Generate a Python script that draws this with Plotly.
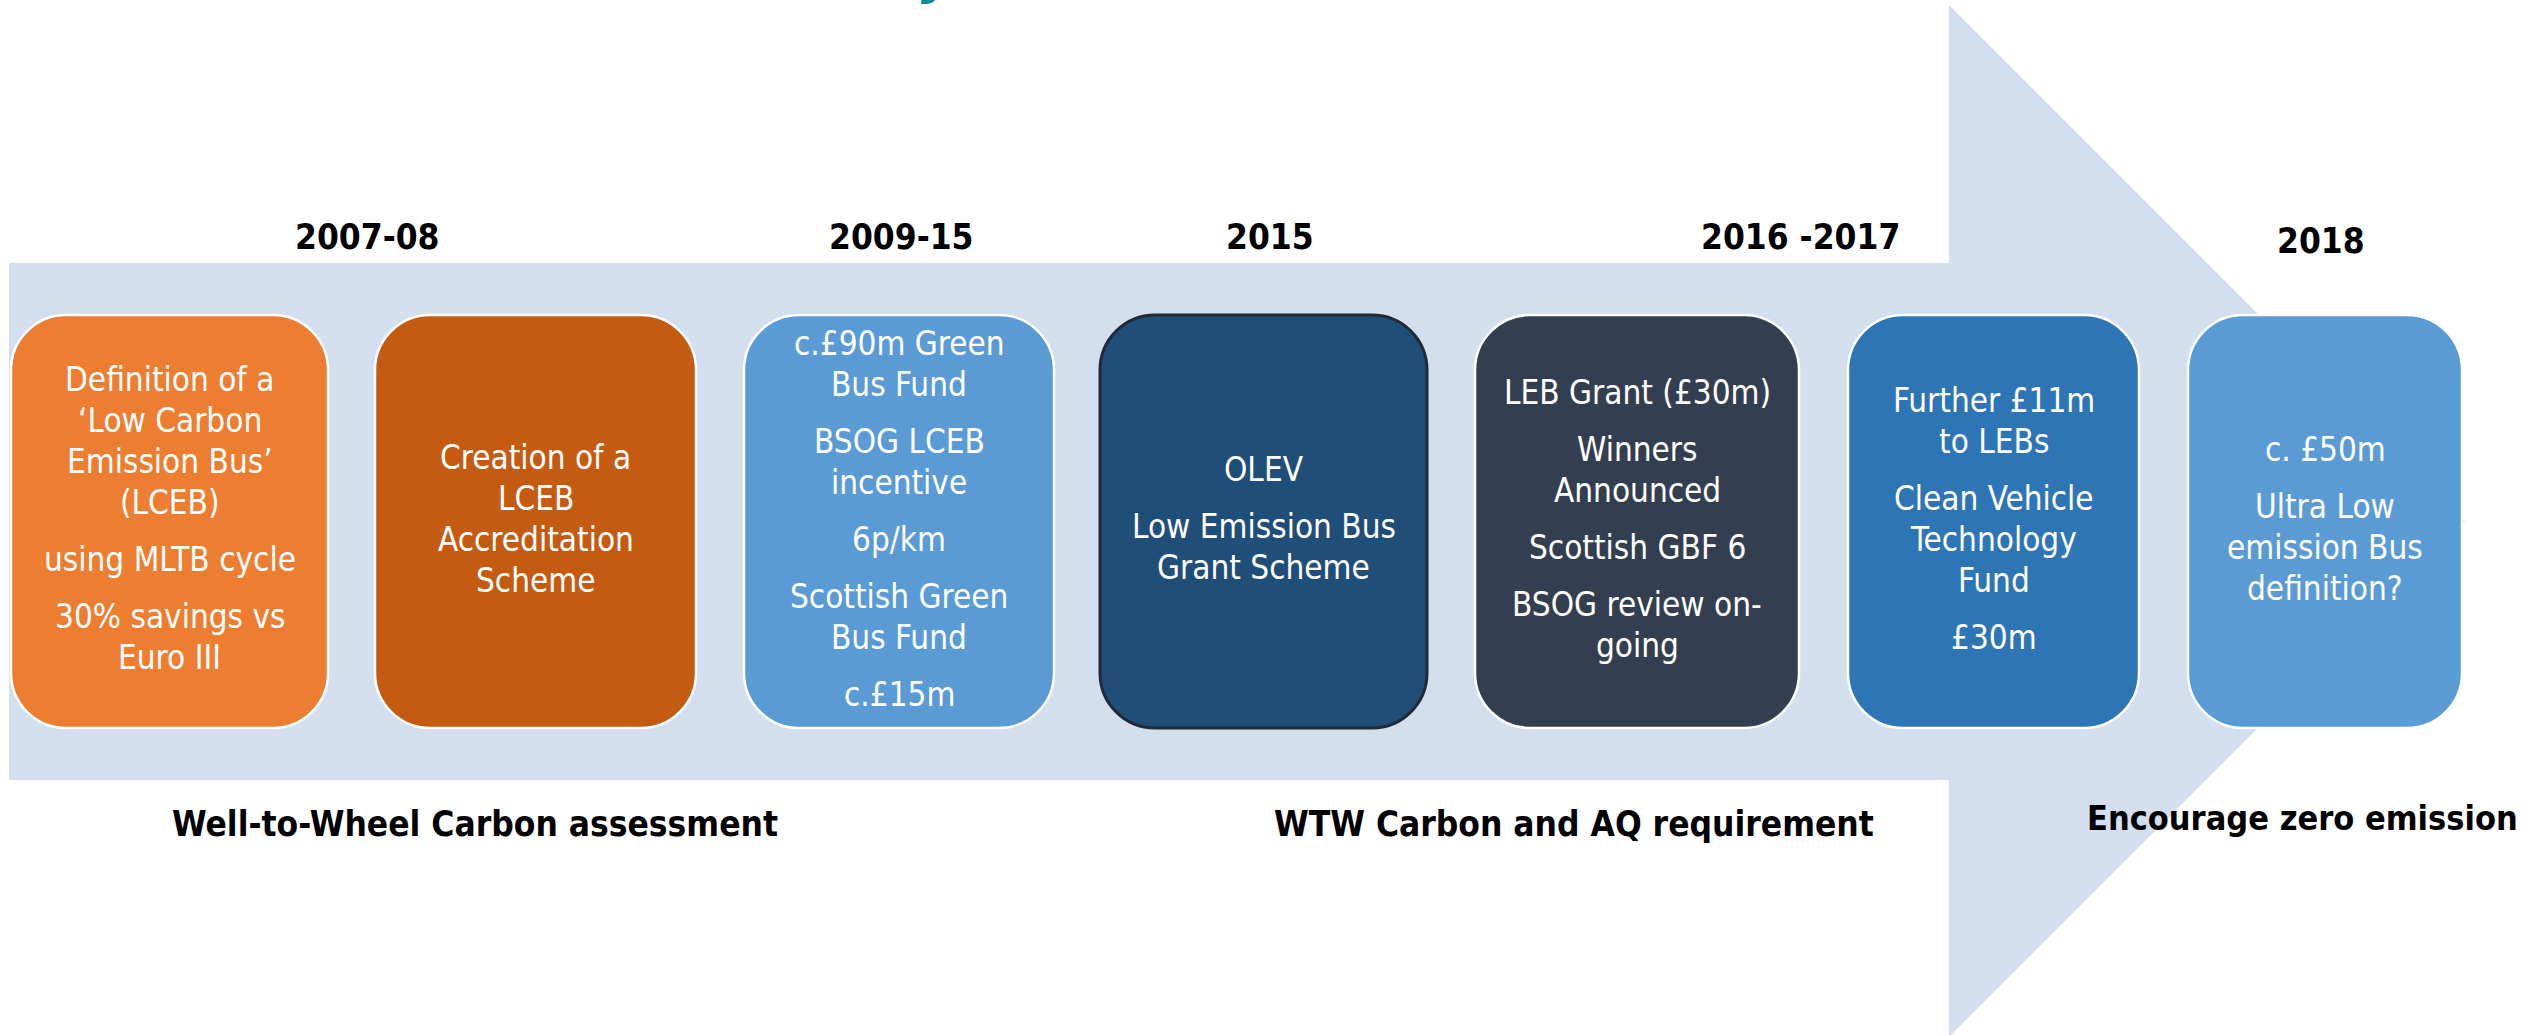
import plotly.graph_objects as go

W, H = 2524, 1035

# ---------------- data ----------------
period_labels = ["2007-08", "2009-15", "2015", "2016 -2017", "2018"]
box_paragraphs = [
    [["Definition of a", "\u2018Low Carbon", "Emission Bus\u2019", "(LCEB)"], ["using MLTB cycle"], ["30% savings vs", "Euro III"]],
    [["Creation of a", "LCEB", "Accreditation", "Scheme"]],
    [["c.\u00a390m Green", "Bus Fund"], ["BSOG LCEB", "incentive"], ["6p/km"], ["Scottish Green", "Bus Fund"], ["c.\u00a315m"]],
    [["OLEV"], ["Low Emission Bus", "Grant Scheme"]],
    [["LEB Grant (\u00a330m)"], ["Winners", "Announced"], ["Scottish GBF 6"], ["BSOG review on-", "going"]],
    [["Further \u00a311m", "to LEBs"], ["Clean Vehicle", "Technology", "Fund"], ["\u00a330m"]],
    [["c. \u00a350m"], ["Ultra Low", "emission Bus", "definition?"]],
]
bottom_labels = ["Well-to-Wheel Carbon assessment", "WTW Carbon and AQ requirement", "Encourage zero emission"]

# ---------------- layout / style ----------------
box_x = [(11, 328), (375, 696), (744, 1054), (1100, 1427), (1475, 1799), (1848, 2139), (2188, 2462)]
box_y = (315, 728)
box_fill = ["#ED7D31", "#C55A11", "#5B9BD5", "#1F4E79", "#333F50", "#2E75B6", "#5B9BD5"]
box_line = ["white", "white", "white", "#222A35", "white", "white", "white"]
period_pos = [(367, 237), (901, 237), (1270, 237), (1800, 237), (2321, 241)]
bottom_pos = [(475, 824), (1574, 824), (2302, 818)]
bottom_sizes = [35, 35, 34]
arrow_col = "#D3DEEF"
FONT = "DejaVu Sans Condensed, Liberation Sans Narrow, sans-serif"
LINE_H = 41
PARA_GAP = 16
RADIUS = 55


def rounded_rect(x0, y0, x1, y1, r):
    k = 0.5523 * r
    return (f"M {x0+r},{y0} L {x1-r},{y0} C {x1-r+k},{y0} {x1},{y0+r-k} {x1},{y0+r} "
            f"L {x1},{y1-r} C {x1},{y1-r+k} {x1-r+k},{y1} {x1-r},{y1} "
            f"L {x0+r},{y1} C {x0+r-k},{y1} {x0},{y1-r+k} {x0},{y1-r} "
            f"L {x0},{y0+r} C {x0},{y0+r-k} {x0+r-k},{y0} {x0+r},{y0} Z")


fig = go.Figure()
fig.add_trace(go.Scatter(x=[0, W], y=[0, H], mode="markers", marker=dict(opacity=0), hoverinfo="skip", showlegend=False))

shapes = []
arrow_path = "M 9,263 L 1949,263 L 1949,5 L 2465,521 L 1949,1037 L 1949,780 L 9,780 Z"
shapes.append(dict(type="path", path=arrow_path, xref="x", yref="y", fillcolor=arrow_col, line=dict(width=0), layer="below"))

annotations = []
for i, (xs, paras) in enumerate(zip(box_x, box_paragraphs)):
    x0, x1 = xs
    y0, y1 = box_y
    shapes.append(dict(type="path", path=rounded_rect(x0, y0, x1, y1, RADIUS), xref="x", yref="y",
                       fillcolor=box_fill[i], line=dict(color=box_line[i], width=3 if box_line[i] != "white" else 2.5)))
    n_lines = sum(len(p) for p in paras)
    total = (n_lines - 1) * LINE_H + (len(paras) - 1) * PARA_GAP
    yc = (y0 + y1) / 2 - total / 2 - 3
    cx = (x0 + x1) / 2
    for pi, p in enumerate(paras):
        for line in p:
            annotations.append(dict(x=cx, y=yc, xref="x", yref="y", text=line, showarrow=False,
                                    xanchor="center", yanchor="middle",
                                    font=dict(family=FONT, size=33, color="white")))
            yc += LINE_H
        yc += PARA_GAP

for lab, (px, py) in zip(period_labels, period_pos):
    annotations.append(dict(x=px, y=py, xref="x", yref="y", text=f"<b>{lab}</b>", showarrow=False,
                            xanchor="center", yanchor="middle", font=dict(family=FONT, size=35, color="black")))

for lab, (px, py), fs in zip(bottom_labels, bottom_pos, bottom_sizes):
    annotations.append(dict(x=px, y=py, xref="x", yref="y", text=f"<b>{lab}</b>", showarrow=False,
                            xanchor="center", yanchor="middle", font=dict(family=FONT, size=fs, color="black")))

# clipped title descender at the very top
annotations.append(dict(x=938 / W, y=1.0, xref="paper", yref="paper", text="<b><i>y</i></b>", showarrow=False,
                        xanchor="center", yanchor="bottom", yshift=-7,
                        font=dict(family=FONT, size=56, color="#00918F")))

fig.update_layout(
    width=W, height=H, margin=dict(l=0, r=0, t=0, b=0),
    paper_bgcolor="white", plot_bgcolor="white",
    xaxis=dict(range=[0, W], visible=False, fixedrange=True),
    yaxis=dict(range=[H, 0], visible=False, fixedrange=True),
    shapes=shapes, annotations=annotations, showlegend=False,
)
fig.write_html("out.html", config={"displayModeBar": False},
               post_script="document.body.style.margin='0';document.body.style.overflow='hidden';")
